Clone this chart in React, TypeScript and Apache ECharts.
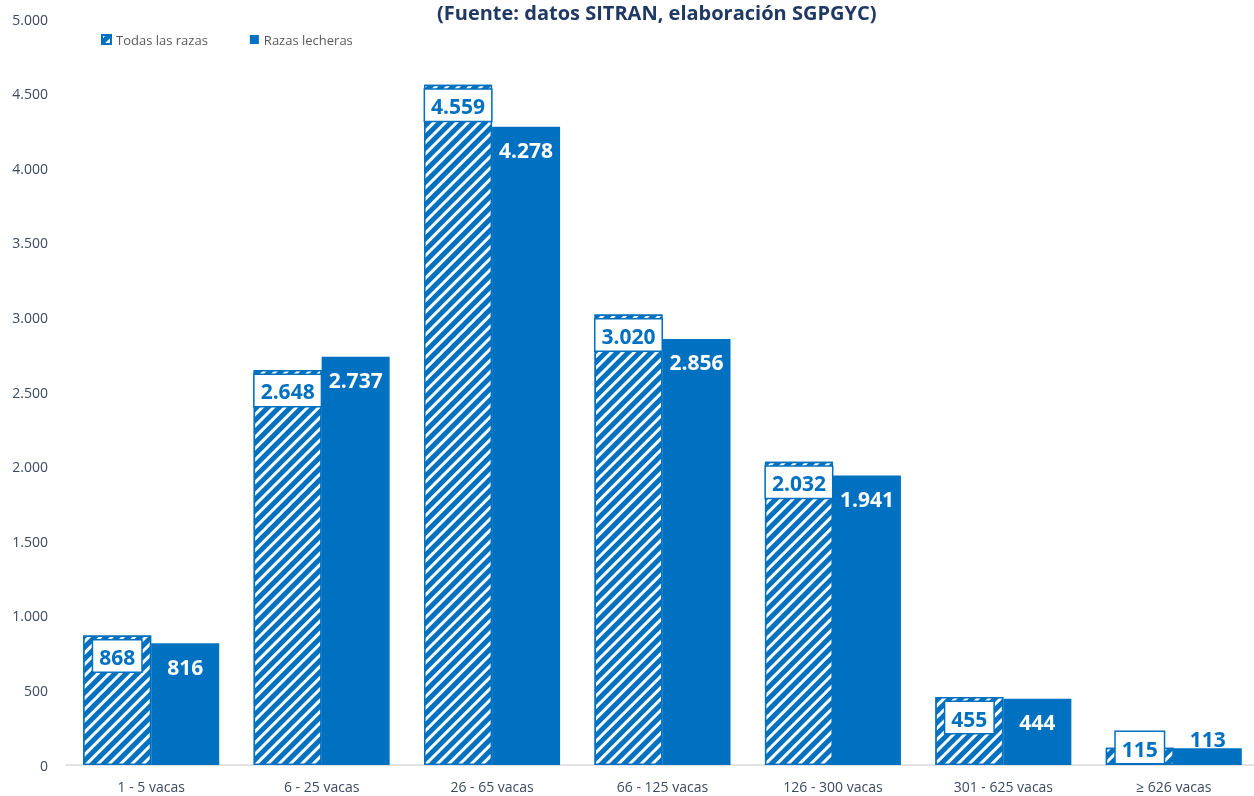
import React, { useEffect, useRef } from "react";
import * as echarts from "echarts";

const categories = ["1 - 5 vacas", "6 - 25 vacas", "26 - 65 vacas", "66 - 125 vacas", "126 - 300 vacas", "301 - 625 vacas", "≥ 626 vacas"];
const todasLasRazas = [868, 2648, 4559, 3020, 2032, 455, 115];
const razasLecheras = [816, 2737, 4278, 2856, 1941, 444, 113];
const titleText = "(Fuente: datos SITRAN, elaboración SGPGYC)";

const BLUE = "#0070C0";
const fmt = (v: number) => String(Math.round(v)).replace(/\B(?=(\d{3})+(?!\d))/g, ".");
const FONT = "Open Sans";

export default function App() {
  const ref = useRef<HTMLDivElement>(null);
  useEffect(() => {
    document.body.style.margin = "0";
    document.body.style.overflow = "hidden";
    const chart = echarts.init(ref.current!, null, { renderer: "svg" });
    const small = 200;
    chart.setOption({
      animation: false,
      title: {
        text: titleText,
        left: 432,
        top: -3,
        textStyle: { fontFamily: FONT, fontWeight: "bold", fontSize: 20, color: "#1F3864" },
      },
      legend: {
        left: 96,
        top: 28,
        itemWidth: 9,
        itemHeight: 9,
        itemGap: 42,
        icon: "rect",
        textStyle: { fontFamily: FONT, fontSize: 13, color: "#595959" },
        data: ["Todas las razas", "Razas lecheras"],
      },
      grid: { left: 66, top: 19, width: 1193, height: 746 },
      xAxis: {
        type: "category",
        data: categories,
        axisLine: { lineStyle: { color: "#D9D9D9", width: 1.5 } },
        axisTick: { show: false },
        axisLabel: { fontFamily: FONT, fontSize: 14, color: "#3B4A5E", margin: 14 },
      },
      yAxis: {
        type: "value",
        min: 0,
        max: 5000,
        interval: 500,
        splitLine: { show: false },
        axisLine: { show: false },
        axisTick: { show: false },
        axisLabel: { fontFamily: FONT, fontSize: 14, color: "#3B4A5E", margin: 18, formatter: (v: number) => fmt(v) },
      },
      series: [
        {
          name: "Todas las razas",
          type: "bar",
          barWidth: 68,
          barGap: "0%",
          data: todasLasRazas.map((v) => ({
            value: v,
            label: v < small ? { position: "insideBottom", distance: 2 } : undefined,
          })),
          itemStyle: {
            color: BLUE,
            borderColor: BLUE,
            borderWidth: 1.5,
            decal: {
              symbol: "rect",
              color: "#ffffff",
              dashArrayX: [1, 0],
              dashArrayY: [3, 5],
              rotation: -Math.PI / 4,
              symbolSize: 1,
            },
          },
          label: {
            show: true,
            position: "insideTop",
            distance: 5,
            formatter: (p: any) => fmt(p.value),
            fontFamily: FONT,
            fontWeight: "bold",
            fontSize: 21,
            color: BLUE,
            backgroundColor: "#ffffff",
            borderColor: BLUE,
            borderWidth: 1.5,
            padding: [6, 6, 4, 6],
          },
        },
        {
          name: "Razas lecheras",
          type: "bar",
          barWidth: 68,
          data: razasLecheras.map((v) => ({
            value: v,
            label: v < small ? { position: "insideBottom", distance: 16, color: BLUE } : undefined,
          })),
          itemStyle: { color: BLUE },
          label: {
            show: true,
            position: "insideTop",
            distance: 13,
            formatter: (p: any) => fmt(p.value),
            fontFamily: FONT,
            fontWeight: "bold",
            fontSize: 21,
            color: "#ffffff",
          },
        },
      ],
    });
    return () => chart.dispose();
  }, []);
  return <div ref={ref} style={{ position: "fixed", left: 0, top: 0, width: 1262, height: 796 }} />;
}
